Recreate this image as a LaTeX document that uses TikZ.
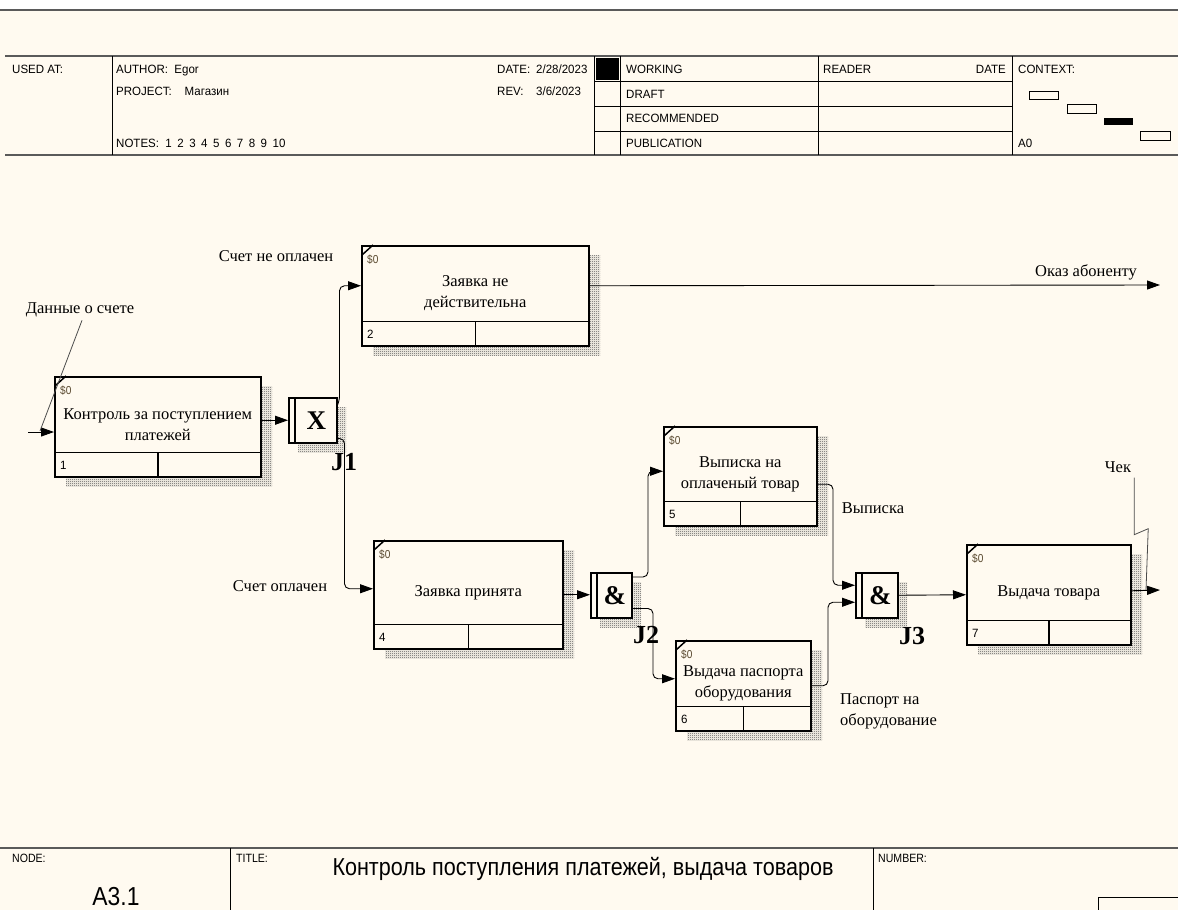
\documentclass[tikz,border=0pt]{standalone}
\usepackage{fontspec}
\setmainfont{Liberation Serif}
\newfontfamily\hdrfont[FakeStretch=0.96]{Liberation Sans}
\newfontfamily\titlefont[FakeStretch=0.88]{Liberation Sans}
\usepackage{xcolor}
\usetikzlibrary{calc}
\usetikzlibrary{patterns}
\usetikzlibrary{arrows.meta}

\definecolor{paper}{HTML}{FFFAF0}
\definecolor{rulegray}{HTML}{5A5A5A}
\definecolor{costcol}{HTML}{5A4A30}

\pgfdeclarepatternformonly{fineshade}{\pgfqpoint{0pt}{0pt}}{\pgfqpoint{2pt}{2pt}}{\pgfqpoint{2pt}{2pt}}{%
  \pgfpathrectangle{\pgfqpoint{0pt}{0pt}}{\pgfqpoint{1pt}{1pt}}%
  \pgfpathrectangle{\pgfqpoint{1pt}{1pt}}{\pgfqpoint{1pt}{1pt}}%
  \pgfusepath{fill}%
}

\tikzstyle{uob} = [draw=black, fill=paper, line width=1.5pt, rectangle, inner sep=0pt]
\tikzstyle{shadowfill} = [pattern=fineshade, pattern color=black!70]
\tikzstyle{uobtext} = [align=center, font=\fontsize{16.5}{21}\selectfont, inner sep=0pt]
\tikzstyle{lbl} = [font=\fontsize{16.5}{21}\selectfont, inner sep=0pt, align=left]
\tikzstyle{hdr} = [font=\hdrfont\fontsize{12}{14}\selectfont, inner sep=0pt, anchor=base west]
\tikzstyle{ftr} = [font=\titlefont\fontsize{12}{14}\selectfont, inner sep=0pt, anchor=base west]
\tikzstyle{junc} = [draw=black, fill=paper, line width=1.5pt, rectangle, inner sep=0pt]
\tikzstyle{jsym} = [font=\bfseries\fontsize{27}{30}\selectfont, inner sep=0pt]
\tikzstyle{jlabel} = [font=\bfseries\fontsize{26}{28}\selectfont, inner sep=0pt]
\tikzstyle{arr} = [draw=black, line width=0.9pt, -{Triangle[length=13pt,width=9pt]}]
\tikzstyle{leader} = [draw=black!70, line width=0.8pt]
\tikzstyle{frame} = [draw=rulegray, line width=1.8pt]

% unit of behaviour: name, x, y, w, h, text, number
\newcommand{\uob}[7]{%
  \fill[shadowfill] (#2+12,#3+10) rectangle ++(#4,#5);
  \node[uob, minimum width=#4pt, minimum height=#5pt, anchor=north west] (#1) at (#2,#3) {};
  \draw[line width=1.5pt] ($(#1.south west)+(0,-25)$) -- ($(#1.south east)+(0,-25)$);
  \draw[line width=1.5pt] ($(#1.south)+(0,-25)$) -- (#1.south);
  \draw[line width=1.5pt] ($(#1.north west)+(1,10)$) -- ($(#1.north west)+(12,0)$);
  \node[hdr, font=\titlefont\fontsize{11.5}{13}\selectfont, text=costcol] (#1-cost) at ($(#1.north west)+(6,18)$) {\$0};
  \node[hdr] (#1-num) at ($(#1.south west)+(6,-8)$) {#7};
  \node[uobtext] (#1-txt) at ($(#1.north)+(0,{(#5-25)/2+11})$) {#6};
}
% junction: name, x, y, w, h, symbol
\newcommand{\junc}[6]{%
  \fill[shadowfill] (#2+10,#3+10) rectangle ++(#4,#5);
  \node[junc, minimum width=#4pt, minimum height=#5pt, anchor=north west] (#1) at (#2,#3) {};
  \draw[line width=1.5pt] ($(#1.north west)+(7,0)$) -- ($(#1.south west)+(7,0)$);
  \node[jsym] (#1-sym) at ($(#1.center)+(3.5,0)$) {#6};
}

\begin{document}
\begin{tikzpicture}[x=1pt, y=-1pt]
  \useasboundingbox (0,0) rectangle (1178,910);
  \fill[white] (0,0) rectangle (1178,910);
  \fill[paper] (0,11) rectangle (1178,910);

  % header
  \draw[frame] (0,10) -- (1178,10);
  \draw[frame] (5,56) -- (1178,56);
  \draw[frame] (5,155) -- (1178,155);
  \draw[line width=1pt] (112,56) -- (112,155);
  \draw[line width=1pt] (594,56) -- (594,155);
  \draw[line width=1pt] (620,56) -- (620,155);
  \draw[line width=1pt] (818,56) -- (818,155);
  \draw[line width=1pt] (1012,56) -- (1012,155);
  \foreach \yy in {81,106,131}
    \draw[line width=1pt] (594,\yy) -- (1012,\yy);
  \fill[black] (596,58) rectangle (619,80);

  \node[hdr] (usedat) at (12,73) {USED AT:};
  \node[hdr] (author) at (116,73) {AUTHOR:\ \ Egor};
  \node[hdr] (project) at (116,95) {PROJECT:\ \ \ \ Магазин};
  \node[hdr] (notes) at (116,147) {NOTES:\ \ 1\hspace{5.5pt}2\hspace{5.5pt}3\hspace{5.5pt}4\hspace{5.5pt}5\hspace{5.5pt}6\hspace{5.5pt}7\hspace{5.5pt}8\hspace{5.5pt}9\hspace{5.5pt}10};
  \node[hdr] (date) at (497,73) {DATE:};
  \node[hdr] (dateval) at (536,73) {2/28/2023};
  \node[hdr] (rev) at (497,95) {REV:};
  \node[hdr] (revval) at (536,95) {3/6/2023};
  \node[hdr] (working) at (626,73) {WORKING};
  \node[hdr] (draft) at (626,98) {DRAFT};
  \node[hdr] (recom) at (626,122) {RECOMMENDED};
  \node[hdr] (public) at (626,147) {PUBLICATION};
  \node[hdr] (reader) at (823,73) {READER};
  \node[hdr, anchor=base east] (rdate) at (1006,73) {DATE};
  \node[hdr] (context) at (1018,73) {CONTEXT:};
  \node[hdr] (ctxnode) at (1018,147) {A0};
  \draw[line width=0.8pt, fill=paper] (1029,91) rectangle (1058,99);
  \draw[line width=0.8pt, fill=paper] (1067,104) rectangle (1096,113);
  \fill[black] (1104,118) rectangle (1133,125);
  \draw[line width=0.8pt, fill=paper] (1140,131) rectangle (1170,140);

  % footer
  \draw[frame] (0,848) -- (1178,848);
  \draw[line width=1pt] (230,848) -- (230,910);
  \draw[line width=1pt] (873,848) -- (873,910);
  \draw[line width=1pt] (1098,910) |- (1178,897);
  \node[ftr] (nodelbl) at (12,862) {NODE:};
  \node[ftr] (titlelbl) at (236,862) {TITLE:};
  \node[ftr] (numlbl) at (878,862) {NUMBER:};
  \node[font=\titlefont\fontsize{24.5}{28}\selectfont, inner sep=0pt] (title) at (583,869) {Контроль поступления платежей, выдача товаров};
  \node[font=\titlefont\fontsize{26}{28}\selectfont, inner sep=0pt] (nodeno) at (116,897) {A3.1};

  % units of behaviour
  \uob{a1}{54}{376}{206}{100}{Контроль за поступлением\\платежей}{1}
  \uob{a2}{361}{245}{227}{100}{Заявка не\\действительна}{2}
  \uob{a4}{373}{540}{189}{108}{Заявка принята}{4}
  \uob{a5}{663}{426}{153}{99}{Выписка на\\оплаченый товар}{5}
  \uob{a6}{675}{640}{135}{90}{Выдача паспорта\\оборудования}{6}
  \uob{a7}{966}{544}{164}{100}{Выдача товара}{7}

  % junctions
  \junc{j1}{288}{397}{48}{45}{X}
  \junc{j2}{590}{572}{41}{45}{\&}
  \junc{j3}{855}{572}{42}{45}{\&}
  \node[jlabel] (j1-lbl) at (344,462) {J1};
  \node[jlabel] (j2-lbl) at (646,635) {J2};
  \node[jlabel] (j3-lbl) at (912,636) {J3};

  % links
  \coordinate (in1) at (28,432);
  \coordinate (out1) at (1160,285);
  \coordinate (out2) at (1160,590);
  \draw[arr] (in1) -- (in1 -| a1.west);
  \draw[arr] (a1.east |- j1.west) -- (j1.west);
  \draw[arr, rounded corners=5pt] ($(j1.north east)+(0,8)$) -- ++(2,-4) |- ($(a2.west)+(0,-10)$);
  \draw[arr, rounded corners=5pt] ($(j1.south east)+(0,-5)$) -- ++(7,0) |- ($(a4.west)+(0,-6)$);
  \draw[arr] ($(a2.east)+(0,-10)$) -- (out1);
  \draw[arr] (a4.east) -- (j2.west |- a4.east);
  \draw[arr, rounded corners=5pt] ($(j2.north east)+(0,5)$) -| ($(a5.west)+(-15,-5)$) -- ($(a5.west)+(0,-5)$);
  \draw[arr, rounded corners=5pt] ($(j2.south east)+(0,-10)$) -| ($(a6.west)+(-22,-7)$) -- ($(a6.west)+(0,-7)$);
  \draw[arr, rounded corners=5pt] ($(a5.east)+(0,8)$) -| ($(j3.west)+(-22,-10)$) -- ($(j3.west)+(0,-10)$);
  \draw[arr, rounded corners=5pt] (a6.east) -| ($(j3.west)+(-27,7)$) -- ($(j3.west)+(0,7)$);
  \draw[arr] (j3.east) -- (a7.west);
  \draw[arr] ($(a7.east)+(0,-4)$) -- (out2);

  % link labels
  \node[lbl] (l-data) at (80,310) {Данные о счете};
  \node[lbl] (l-unpaid) at (276,256) {Счет не оплачен};
  \node[lbl] (l-paid) at (280,586) {Счет оплачен};
  \node[lbl] (l-refuse) at (1086,272) {Оказ абоненту};
  \node[lbl] (l-stmt) at (873,508) {Выписка};
  \node[lbl, anchor=west] (l-pass) at (840,711) {Паспорт на\\оборудование};
  \node[lbl] (l-check) at (1118,467) {Чек};
  \draw[leader] ($(l-data.south)+(2,3)$) -- ($(in1)+(12,-1)$);
  \draw[leader] ($(l-check.south east)+(3,5)$) -- ++(0,57) -- ++(14,-6) -- ($(out2)+(-14,0)$);
\end{tikzpicture}
\end{document}
